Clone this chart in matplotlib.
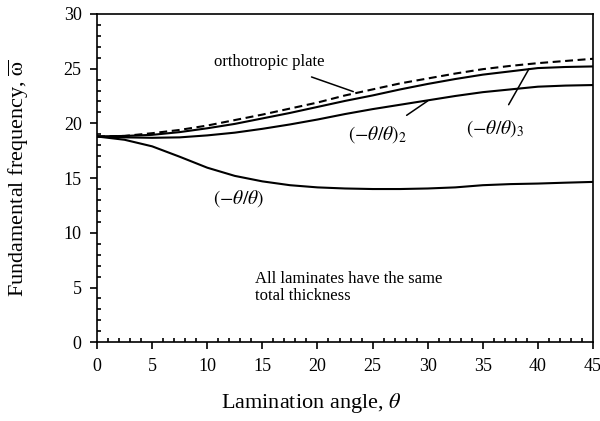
import numpy as np
import matplotlib
matplotlib.use("Agg")
import matplotlib.pyplot as plt
from matplotlib.ticker import MultipleLocator

# lamination angle (deg)
angle = [0, 2.5, 5, 7.5, 10, 12.5, 15, 17.5, 20, 22.5, 25, 27.5, 30,
         32.5, 35, 37.5, 40, 42.5, 45]

# fundamental frequency
orthotropic = [18.8, 18.85, 19.1, 19.4, 19.8, 20.3, 20.8, 21.35, 21.9, 22.55,
               23.1, 23.65, 24.1, 24.55, 24.95, 25.25, 25.5, 25.7, 25.9]
lam_3 = [18.8, 18.85, 18.95, 19.2, 19.55, 19.95, 20.45, 20.95, 21.5, 22.05,
         22.55, 23.1, 23.6, 24.05, 24.45, 24.75, 25.05, 25.15, 25.2]
lam_2 = [18.8, 18.72, 18.68, 18.72, 18.9, 19.15, 19.5, 19.9, 20.35, 20.85,
         21.3, 21.7, 22.1, 22.5, 22.85, 23.1, 23.35, 23.45, 23.5]
lam_1 = [18.8, 18.5, 17.9, 16.95, 15.95, 15.2, 14.7, 14.35, 14.15, 14.05,
         14.0, 14.0, 14.05, 14.15, 14.35, 14.45, 14.5, 14.58, 14.65]

plt.rcParams['font.family'] = ['Liberation Serif', 'DejaVu Serif']
plt.rcParams['mathtext.fontset'] = 'stix'

fig = plt.figure(figsize=(6, 4.21), dpi=100)
ax = fig.add_axes([0.1617, 0.187, 0.8267, 0.780])

ax.plot(angle, orthotropic, color='black', lw=1.5, dashes=(3.8, 2.2))
ax.plot(angle, lam_3, color='black', lw=1.5)
ax.plot(angle, lam_2, color='black', lw=1.5)
ax.plot(angle, lam_1, color='black', lw=1.5)

ax.set_xlim(0, 45)
ax.set_ylim(0, 30)
ax.xaxis.set_major_locator(MultipleLocator(5))
ax.yaxis.set_major_locator(MultipleLocator(5))
ax.xaxis.set_minor_locator(MultipleLocator(1))
ax.yaxis.set_minor_locator(MultipleLocator(1))
ax.tick_params(which='major', direction='out', length=5, width=1.2,
               labelsize=13, pad=6)
ax.tick_params(which='minor', direction='in', length=3, width=1.2)
for s in ax.spines.values():
    s.set_linewidth(1.2)

ax.set_xlabel(r'Lamination angle, $\theta$', fontsize=16)
ax.xaxis.set_label_coords(0.431, -0.148)
ax.set_ylabel(r'Fundamental frequency, $\overline{\mathrm{\omega}}$', fontsize=16)
ax.yaxis.set_label_coords(-0.134, 0.5)

lw_ann = 1.1
ax.annotate('orthotropic plate', xy=(23.25, 22.9), xytext=(15.6, 25.6),
            fontsize=12, ha='center', va='center',
            arrowprops=dict(arrowstyle='-', color='black', lw=lw_ann,
                            shrinkA=9, shrinkB=0))
ax.annotate(r'$(-\theta/\theta)_2$', xy=(30.0, 22.05), xytext=(25.5, 18.95),
            fontsize=14, ha='center', va='center',
            arrowprops=dict(arrowstyle='-', color='black', lw=lw_ann,
                            shrinkA=8, shrinkB=0))
ax.annotate(r'$(-\theta/\theta)_3$', xy=(39.2, 25.0), xytext=(36.1, 19.5),
            fontsize=14, ha='center', va='center',
            arrowprops=dict(arrowstyle='-', color='black', lw=lw_ann,
                            shrinkA=9, shrinkB=0))
ax.text(12.9, 13.1, r'$(-\theta/\theta)$', fontsize=14, ha='center', va='center')
ax.text(14.35, 5.0, 'All laminates have the same\ntotal thickness',
        fontsize=12, ha='left', va='center', linespacing=1.15)

fig.savefig('out.png', dpi=100)
